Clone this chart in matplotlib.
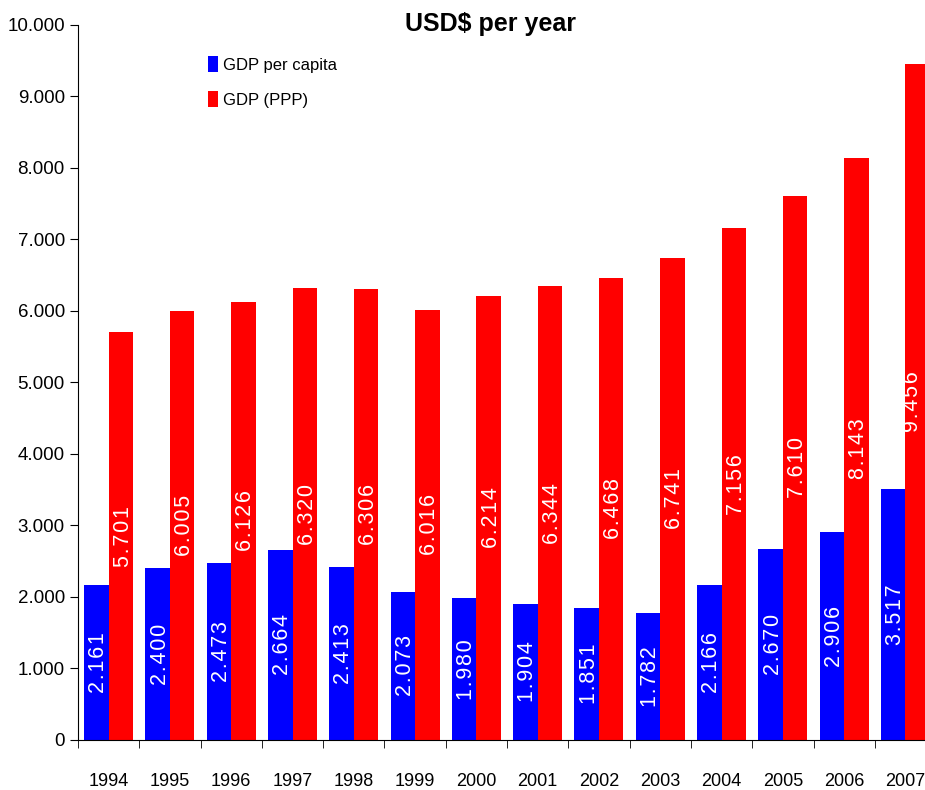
import matplotlib.pyplot as plt
import numpy as np

years = ["1994", "1995", "1996", "1997", "1998", "1999", "2000",
         "2001", "2002", "2003", "2004", "2005", "2006", "2007"]
gdp_per_capita = [2161, 2400, 2473, 2664, 2413, 2073, 1980,
                  1904, 1851, 1782, 2166, 2670, 2906, 3517]
gdp_ppp = [5701, 6005, 6126, 6320, 6306, 6016, 6214,
           6344, 6468, 6741, 7156, 7610, 8143, 9456]

plt.rcParams["font.family"] = ["Liberation Sans Narrow", "Liberation Sans", "DejaVu Sans"]


def fmt(v):
    # 2161 -> "2.161" with a little letter spacing (hair spaces)
    s = f"{v:,}".replace(",", ".")
    return "\u200a".join(s)


fig = plt.figure(figsize=(9.25, 7.9), dpi=100)
ax = fig.add_axes([0.0843, 0.0633, 0.9277, 0.9051])

x = np.arange(len(years))
w = 0.4
b1 = ax.bar(x - w / 2, gdp_per_capita, w, color="#0000ff", label="GDP per capita")
b2 = ax.bar(x + w / 2, gdp_ppp, w, color="#ff0000", label="GDP (PPP)")

# the figure edge cuts through the last red bar, keep its label inside
x_max_label = len(years) - 1 + 0.12
for bars, vals in [(b1, gdp_per_capita), (b2, gdp_ppp)]:
    for rect, v in zip(bars, vals):
        xc = min(rect.get_x() + rect.get_width() / 2 + 0.04, x_max_label)
        ax.text(xc, v / 2, fmt(v),
                rotation=90, ha="center", va="center", color="white",
                fontsize=15.5)

ax.set_xlim(-0.5, len(years) - 0.5)
ax.set_ylim(0, 10000)
ax.set_yticks(np.arange(0, 10001, 1000))
ax.set_yticklabels([f"{v:,}".replace(",", ".") for v in range(0, 10001, 1000)])
ax.tick_params(axis="y", labelsize=13.5, length=6, direction="out")

ax.set_xticks(x)
ax.set_xticklabels(years)
ax.set_xticks(np.arange(-0.5, len(years), 1), minor=True)
ax.tick_params(axis="x", which="major", length=0, labelsize=13, pad=24)
ax.tick_params(axis="x", which="minor", length=6, direction="out")

ax.spines["top"].set_visible(False)
ax.spines["right"].set_visible(False)

fig.text(0.53, 0.970, "USD$ per year", ha="center", va="center",
         fontsize=18, fontweight="bold")

ax.legend(loc="upper left", bbox_to_anchor=(0.209, 0.948), bbox_transform=fig.transFigure,
          frameon=False, fontsize=12, handlelength=0.6, handleheight=1.1,
          handletextpad=0.3, labelspacing=1.1)

fig.savefig("out.png", dpi=100)
